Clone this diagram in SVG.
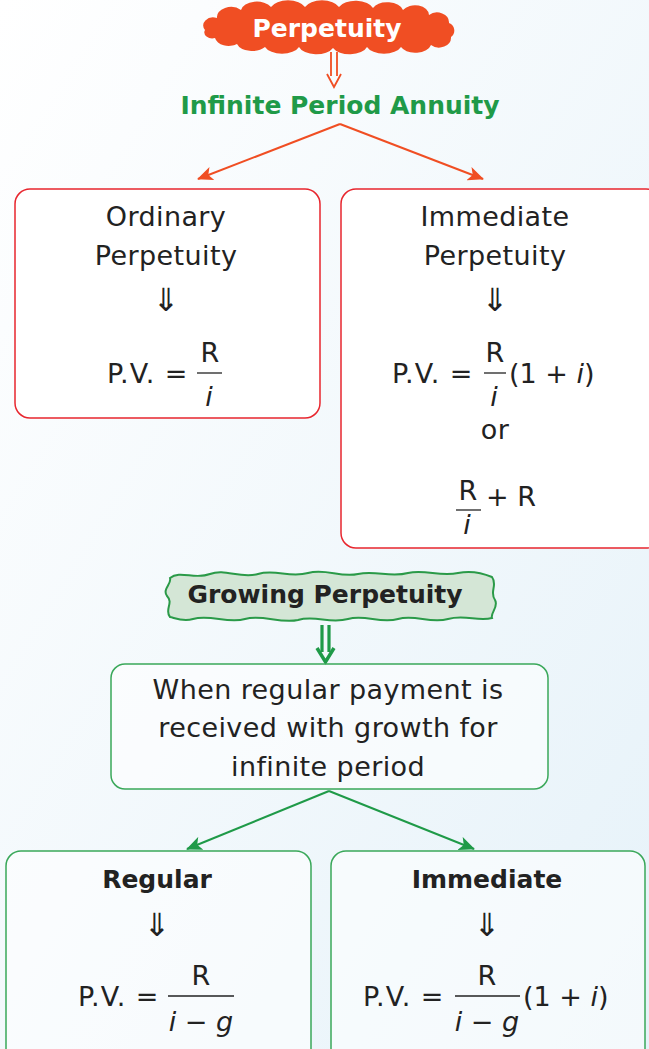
<svg xmlns="http://www.w3.org/2000/svg" width="649" height="1049" viewBox="0 0 649 1049">
<defs>
<linearGradient id="bg" x1="0" y1="0" x2="1" y2="1">
<stop offset="0" stop-color="#ffffff"/>
<stop offset="1" stop-color="#e6f2f9"/>
</linearGradient>
<marker id="ar" viewBox="0 0 16 14" refX="15" refY="7" markerWidth="16" markerHeight="14" markerUnits="userSpaceOnUse" orient="auto">
<path d="M0,0 L16,7 L0,14 L4,7 Z" fill="#f04e23"/>
</marker>
<marker id="ag" viewBox="0 0 16 14" refX="15" refY="7" markerWidth="16" markerHeight="14" markerUnits="userSpaceOnUse" orient="auto">
<path d="M0,0 L16,7 L0,14 L4,7 Z" fill="#1f9a48"/>
</marker>
</defs>
<style>
.t{font-family:"DejaVu Sans","Liberation Sans",sans-serif;font-size:27px;letter-spacing:0.4px;fill:#222;text-anchor:middle}
.b{font-weight:bold;font-size:25px;letter-spacing:0}
.m{font-family:"DejaVu Sans","Liberation Sans",sans-serif;font-size:27px;fill:#222}
.pv{letter-spacing:1px}
.it{font-style:italic}
.rb{fill:#ffffff;stroke:#e8262e;stroke-width:1.5}
.gb{fill:#ffffff;fill-opacity:0.55;stroke:#3aa85a;stroke-width:1.5}
.fl{stroke:#222;stroke-width:1.3}
.arr{font-family:"DejaVu Sans",sans-serif;font-size:32px;fill:#222;text-anchor:middle}
</style>
<rect width="649" height="1049" fill="url(#bg)"/>

<g id="connectors">
<path d="M331,52 V76 M337,52 V76 M327,74 L334,87 L341,74" fill="none" stroke="#f04e23" stroke-width="1.8"/>
<line x1="340" y1="124" x2="198" y2="179" stroke="#f04e23" stroke-width="2" marker-end="url(#ar)"/>
<line x1="340" y1="124" x2="483" y2="179" stroke="#f04e23" stroke-width="2" marker-end="url(#ar)"/>
<path d="M322,625 V652 M329,625 V652" fill="none" stroke="#1f9a48" stroke-width="3.2"/>
<path d="M317,648 L325.5,662 L334,648" fill="none" stroke="#1f9a48" stroke-width="3.5"/>
<line x1="329" y1="791" x2="187" y2="849" stroke="#1f9a48" stroke-width="2" marker-end="url(#ag)"/>
<line x1="329" y1="791" x2="474" y2="849" stroke="#1f9a48" stroke-width="2" marker-end="url(#ag)"/>
</g>

<g id="perpetuity">
<path d="M205,30 a10,8 0 0 1 12,-12 a14,10 0 0 1 24,-8 a16,10 0 0 1 30,-3 a18,10 0 0 1 34,0 a18,10 0 0 1 34,0 a18,10 0 0 1 34,1 a16,10 0 0 1 30,2 a14,10 0 0 1 26,5 a12,10 0 0 1 20,8 a8,8 0 0 1 2,14 a12,10 0 0 1 -20,8 a16,10 0 0 1 -30,2 a18,10 0 0 1 -34,0 a18,10 0 0 1 -34,1 a18,10 0 0 1 -34,-1 a18,10 0 0 1 -34,0 a16,10 0 0 1 -28,-3 a14,10 0 0 1 -22,-6 a8,6 0 0 1 -10,-8 Z" fill="#f04e23"/>
<text class="t b" x="327" y="37" style="fill:#ffffff">Perpetuity</text>
</g>

<g id="infinite-period-annuity">
<text class="t b" x="340" y="114" style="fill:#1f9a48">Infinite Period Annuity</text>
</g>

<g id="ordinary-perpetuity">
<rect class="rb" x="15" y="189" width="305" height="229" rx="15"/>
<text class="t" x="166" y="226">Ordinary</text>
<text class="t" x="166" y="265">Perpetuity</text>
<text class="arr" x="166" y="311">⇓</text>
<text class="m pv" x="107" y="383">P.V. =</text>
<text class="m" x="210" y="362" text-anchor="middle">R</text>
<line class="fl" x1="197" y1="373" x2="222" y2="373"/>
<text class="m it" x="209" y="406" text-anchor="middle">i</text>
</g>

<g id="immediate-perpetuity">
<rect class="rb" x="341" y="189" width="320" height="359" rx="15"/>
<text class="t" x="495" y="226">Immediate</text>
<text class="t" x="495" y="265">Perpetuity</text>
<text class="arr" x="495" y="311">⇓</text>
<text class="m pv" x="392" y="383">P.V. =</text>
<text class="m" x="495" y="362" text-anchor="middle">R</text>
<line class="fl" x1="484" y1="373" x2="506" y2="373"/>
<text class="m it" x="494" y="406" text-anchor="middle">i</text>
<text class="m" x="509" y="383">(1 + <tspan class="it">i</tspan>)</text>
<text class="t" x="495" y="439">or</text>
<text class="m" x="468" y="500" text-anchor="middle">R</text>
<line class="fl" x1="456" y1="510" x2="481" y2="510"/>
<text class="m it" x="467" y="534" text-anchor="middle">i</text>
<text class="m" x="486" y="506">+ R</text>
</g>

<g id="growing-perpetuity">
<path d="M170,578 C180,570 195,580 210,574 C225,568 240,579 258,574 C275,569 290,578 308,573 C326,568 340,578 358,574 C376,570 390,578 408,573 C425,569 440,577 458,573 C472,570 485,574 492,577 C498,585 489,592 495,600 C499,607 490,613 492,618 C478,622 465,614 448,619 C430,624 415,614 398,619 C380,624 365,614 348,619 C330,624 315,615 298,620 C280,624 262,614 245,619 C228,624 210,614 193,619 C183,622 175,618 170,617 C164,610 174,603 167,596 C162,589 172,584 170,578 Z" fill="#d4e6d6" stroke="#2a9a48" stroke-width="2"/>
<text class="t b" x="325" y="603">Growing Perpetuity</text>
</g>

<g id="growing-description">
<rect class="gb" x="111" y="664" width="437" height="125" rx="14"/>
<text class="t" x="328" y="699">When regular payment is</text>
<text class="t" x="328" y="737">received with growth for</text>
<text class="t" x="328" y="776">infinite period</text>
</g>

<g id="regular">
<rect class="gb" x="6" y="851" width="305" height="230" rx="15"/>
<text class="t b" x="157" y="888">Regular</text>
<text class="arr" x="157" y="936">⇓</text>
<text class="m pv" x="78" y="1006">P.V. =</text>
<text class="m" x="201" y="985" text-anchor="middle">R</text>
<line class="fl" x1="168" y1="996" x2="234" y2="996"/>
<text class="m" x="201" y="1031" text-anchor="middle"><tspan class="it">i</tspan> − <tspan class="it">g</tspan></text>
</g>

<g id="immediate">
<rect class="gb" x="331" y="851" width="314" height="230" rx="15"/>
<text class="t b" x="487" y="888">Immediate</text>
<text class="arr" x="487" y="936">⇓</text>
<text class="m pv" x="363" y="1006">P.V. =</text>
<text class="m" x="487" y="985" text-anchor="middle">R</text>
<line class="fl" x1="455" y1="996" x2="520" y2="996"/>
<text class="m" x="487" y="1031" text-anchor="middle"><tspan class="it">i</tspan> − <tspan class="it">g</tspan></text>
<text class="m" x="523" y="1006">(1 + <tspan class="it">i</tspan>)</text>
</g>
</svg>
